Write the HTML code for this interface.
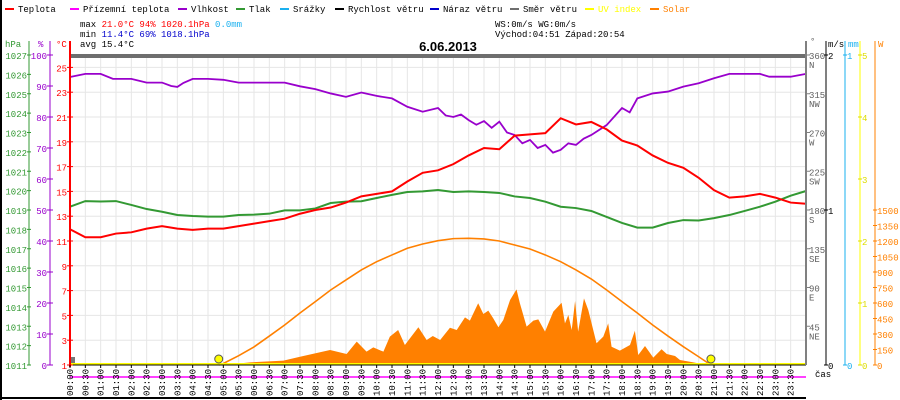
<!DOCTYPE html>
<html><head><meta charset="utf-8"><style>
body{margin:0;background:#fff}
svg{display:block;font-family:"Liberation Mono","DejaVu Sans Mono",monospace}
text{font-size:9px}
</style></head><body>
<svg id="chart" width="900" height="400" viewBox="0 0 900 400">
<g id="grid"></g>
<g id="series"></g>
<g id="axes"></g>
<g id="legend"></g>
<g>
<text x="80" y="27" fill="#000">max <tspan fill="#f00">21.0°C  94%  1020.1hPa</tspan>  <tspan fill="#1ab0ef">0.0mm</tspan></text>
<text x="80" y="37" fill="#000">min <tspan fill="#00c">11.4°C  69%  1018.1hPa</tspan></text>
<text x="80" y="47" fill="#000">avg 15.4°C</text>
<text x="495" y="27" fill="#000">WS:0m/s   WG:0m/s</text>
<text x="495" y="37" fill="#000">Východ:04:51 Západ:20:54</text>
</g>
<text x="448" y="51" text-anchor="middle" font-weight="bold" style="font-size:13px;font-family:'Liberation Sans',sans-serif">6.06.2013</text>
</svg>
<script>
const hours = [0,0.5,1,1.5,2,2.5,3,3.5,4,4.5,5,5.5,6,6.5,7,7.5,8,8.5,9,9.5,10,10.5,11,11.5,12,12.5,13,13.5,14,14.5,15,15.5,16,16.5,17,17.5,18,18.5,19,19.5,20,20.5,21,21.5,22,22.5,23,23.5,24];
const temperature = [11.95,11.3,11.3,11.6,11.7,12.0,12.2,12.0,11.9,12.0,12.0,12.2,12.4,12.6,12.8,13.2,13.5,13.7,14.1,14.6,14.8,15.0,15.8,16.5,16.7,17.2,17.9,18.5,18.4,19.5,19.6,19.7,20.9,20.4,20.6,20.0,19.1,18.7,17.9,17.3,16.9,16.1,15.1,14.5,14.6,14.8,14.5,14.1,14.0];
const pressure = [1019.17,1019.46,1019.44,1019.46,1019.26,1019.05,1018.91,1018.74,1018.69,1018.66,1018.66,1018.74,1018.76,1018.81,1018.98,1018.98,1019.08,1019.36,1019.43,1019.45,1019.62,1019.78,1019.93,1019.96,1020.03,1019.93,1019.96,1019.93,1019.88,1019.7,1019.62,1019.43,1019.17,1019.1,1018.95,1018.64,1018.33,1018.09,1018.09,1018.33,1018.48,1018.46,1018.58,1018.74,1018.95,1019.17,1019.43,1019.74,1019.98];
const humHours = [0,0.5,1,1.4,1.5,2,2.5,3,3.3,3.5,3.7,4,4.5,5,5.5,6,6.5,7,7.5,8,8.5,9,9.5,10,10.5,11,11.5,12,12.25,12.5,12.75,13,13.25,13.5,13.75,14,14.25,14.5,14.75,15,15.25,15.5,15.75,16,16.25,16.5,16.75,17,17.5,18,18.25,18.5,19,19.5,20,20.5,21,21.5,22,22.5,22.8,23,23.5,24];
const humidity = [92.9,93.9,93.9,92.3,92.3,92.3,91.1,91.1,90.0,89.7,91.0,92.3,92.3,92.0,91.1,91.1,91.1,91.1,89.9,89.0,87.6,86.5,87.9,86.8,86.0,83.3,81.7,82.9,80.5,80.0,80.8,79.0,77.5,78.7,76.5,78.5,75.0,74.2,71.5,72.6,70.0,71.0,68.5,69.4,71.5,71.0,73.0,74.2,77.4,82.9,81.5,86.0,87.6,88.2,89.8,90.9,92.5,93.9,93.9,93.9,93.0,93.0,93.0,93.9];
const clearSkyHours = [4.85,5,5.5,6,6.5,7,7.5,8,8.5,9,9.5,10,10.5,11,11.5,12,12.5,13,13.5,14,14.5,15,15.5,16,16.5,17,17.5,18,18.5,19,19.5,20,20.5,20.9];
const clearSky = [0,15,90,175,280,387,503,613,726,823,920,1000,1065,1130,1171,1203,1223,1226,1220,1200,1161,1123,1065,1000,920,832,726,613,503,387,280,177,80,0];
const solarHours = [4.9,5.0,5.5,5.87,6.96,7.5,8.48,9.02,9.35,9.67,9.89,10.22,10.43,10.7,10.92,11.36,11.63,11.83,12.07,12.39,12.61,12.88,13.04,13.31,13.48,13.64,13.8,13.97,14.13,14.35,14.56,14.67,14.89,15.11,15.27,15.49,15.76,16.03,16.14,16.25,16.36,16.47,16.57,16.76,16.9,17.17,17.39,17.55,17.66,17.93,18.26,18.42,18.53,18.75,19.02,19.29,19.46,19.73,19.89,20.33,20.76];
const solar = [0,8,15,26,42,80,145,106,226,129,171,129,274,339,194,365,242,281,242,361,339,461,429,597,494,526,452,365,435,629,732,597,371,429,442,323,516,603,403,484,339,619,323,645,532,210,274,403,177,139,194,332,97,184,71,152,106,87,48,26,0];
const tempTicks = [1,3,5,7,9,11,13,15,17,19,21,23,25];
const humTicks = [0,10,20,30,40,50,60,70,80,90,100];
const presTicks = [1011,1012,1013,1014,1015,1016,1017,1018,1019,1020,1021,1022,1023,1024,1025,1026,1027];
const dirTicks = [45,90,135,180,225,270,315,360];
const dirNames = ['NE','E','SE','S','SW','W','NW','N'];
const wTicks = [0,150,300,450,600,750,900,1050,1200,1350,1500];

const NS='http://www.w3.org/2000/svg';
const X0=70,X1=806,Y0=55,Y1=365;
const xs=h=>X0+h*(X1-X0)/24;
const yT=t=>Y1-(t-1)*(Y1-Y0)/25;
const yH=v=>Y1-v*(Y1-Y0)/100;
const yP=p=>Y1-(p-1011)*(Y1-Y0)/16;
const yD=d=>Y1-d*(Y1-Y0)/360;
const yW=w=>Y1-w*(Y1-Y0)/3000;
function mk(tag,attrs,parent,txt){const e=document.createElementNS(NS,tag);for(const k in attrs)e.setAttribute(k,attrs[k]);if(txt!==undefined)e.textContent=txt;document.getElementById(parent).appendChild(e);return e;}

// grid
for(let i=0;i<=48;i++){const x=xs(i/2);const g=mk('line',{x1:x,x2:x,y1:Y0,y2:Y1,stroke:'#e6e6e6'},'grid');

}
tempTicks.forEach(t=>{if(t===1)return;const g=mk('line',{x1:X0,x2:X1,y1:yT(t),y2:yT(t),stroke:'#e6e6e6'},'grid');

});

// series
const solarPts=solarHours.map((h,i)=>xs(h)+','+yW(solar[i])).join(' ');
const sf=mk('polygon',{points:xs(solarHours[0])+','+Y1+' '+solarPts+' '+xs(solarHours[solarHours.length-1])+','+Y1,fill:'#ff8000'},'series');


const cs=mk('polyline',{points:clearSkyHours.map((h,i)=>xs(h)+','+yW(clearSky[i])).join(' '),fill:'none',stroke:'#ff8000','stroke-width':1.6},'series');


const pl=mk('polyline',{points:hours.map((h,i)=>xs(h)+','+yP(pressure[i])).join(' '),fill:'none',stroke:'#339933','stroke-width':2},'series');


const hl=mk('polyline',{points:humHours.map((h,i)=>xs(h)+','+yH(humidity[i])).join(' '),fill:'none',stroke:'#9900cc','stroke-width':1.8},'series');


const tl=mk('polyline',{points:hours.map((h,i)=>xs(h)+','+yT(temperature[i])).join(' '),fill:'none',stroke:'#f00','stroke-width':2},'series');


const wd=mk('rect',{x:X0,y:Y0-1,width:X1-X0,height:4,fill:'#6e6e6e'},'series');


const gb=mk('rect',{x:X0+1,y:357,width:4,height:7,fill:'#777'},'series');


const uv=mk('line',{x1:X0,x2:X1,y1:Y1-1,y2:Y1-1,stroke:'#ffff00','stroke-width':2},'series');


[4.85,20.9].forEach(h=>{const c=mk('circle',{cx:xs(h),cy:359,r:4,fill:'#ffff00',stroke:'#555','stroke-width':1},'series');

});

// axes
function ln(x1,y1,x2,y2,c,name,w){const l=mk('line',{x1,y1,x2,y2,stroke:c,'stroke-width':w||1},'axes');

return l;}
ln(X0,Y1,X1,Y1,'#000','x-axis');
ln(X0,41,X0,Y1+2,'#f00','temp-axis',2);
ln(50,41,50,Y1,'#9900cc','humidity-axis');
ln(29,41,29,Y1,'#339933','pressure-axis');
ln(1,0,1,400,'#000','left-border',2);
ln(0,398,X1,398,'#000','bottom-border',2);
ln(X1,41,X1,Y1,'#808080','direction-axis',2);
ln(826,41,826,Y1,'#000','wind-speed-axis');
ln(845,41,845,Y1,'#1ab0ef','rain-axis');
ln(860,41,860,Y1,'#ffff00','uv-axis');
ln(875,41,875,Y1,'#ff8000','solar-axis');
ln(X0,377,X1,377,'#ff00ff','dew-point-line',1.5);
function lbl(x,y,t,c,anchor,name){const e=mk('text',{x,y,fill:c,'text-anchor':anchor||'start'},'axes',t);

return e;}
tempTicks.forEach(t=>{const y=yT(t);ln(X0-3,y,X0+3,y,'#f00','temp-tick');lbl(67,y+4,String(t),'#f00','end','temp-tick-label');});
humTicks.forEach(v=>{const y=yH(v);ln(47,y,53,y,'#9900cc','humidity-tick');lbl(47,y+4,String(v),'#9900cc','end','humidity-tick-label');});
presTicks.forEach(v=>{const y=yP(v);ln(27,y,31,y,'#339933','pressure-tick');lbl(27,y+4,String(v),'#339933','end','pressure-tick-label');});
dirTicks.forEach((v,i)=>{const y=yD(v);ln(X1,y,X1+4,y,'#808080','direction-tick');lbl(X1+3,y+4,String(v),'#606060','start','direction-tick-label');lbl(X1+3,y+13,dirNames[i],'#606060','start','compass-label');});
[0,1,2].forEach(v=>{const y=Y1-v*(Y1-Y0)/2;ln(824,y,828,y,'#000','wind-tick');lbl(828,y+4,String(v),'#000','start','wind-tick-label');});
[0,1].forEach(v=>{const y=Y1-v*(Y1-Y0);ln(843,y,847,y,'#1ab0ef','rain-tick');lbl(847,y+4,String(v),'#1ab0ef','start','rain-tick-label');});
[0,1,2,3,4,5].forEach(v=>{const y=Y1-v*(Y1-Y0)/5;ln(858,y,862,y,'#dddd00','uv-tick');lbl(862,y+4,String(v),'#dddd00','start','uv-tick-label');});
wTicks.forEach(v=>{const y=yW(v);ln(873,y,877,y,'#ff8000','solar-tick');lbl(877,y+4,String(v),'#ff8000','start','solar-tick-label');});
lbl(5,47,'hPa','#339933','start','pressure-unit');
lbl(38,47,'%','#9900cc','start','humidity-unit');
lbl(56,47,'°C','#f00','start','temp-unit');
lbl(810,44,'°','#606060','start','direction-unit');
lbl(828,47,'m/s','#000','start','wind-unit');
lbl(848,47,'mm','#1ab0ef','start','rain-unit');
lbl(878,47,'W','#ff8000','start','solar-unit');
lbl(815,377,'čas','#000','start','time-axis-title');
for(let i=0;i<48;i++){const h=i/2;const x=xs(h);ln(x,Y1,x,Y1+3,'#000','time-tick');
const s=String(Math.floor(h)).padStart(2,'0')+':'+(i%2?'30':'00');
const t=lbl(0,0,s,'#000','start','time-tick-label');t.setAttribute('transform','translate('+(x+3)+',396) rotate(-90)');}

// legend
const legNames=['Teplota','Přízemní teplota','Vlhkost','Tlak','Srážky','Rychlost větru','Náraz větru','Směr větru','UV index','Solar'];
const legColors=['#f00','#ff00ff','#9900cc','#339933','#1ab0ef','#000','#0000cc','#6e6e6e','#ffff00','#ff8000'];
const legX=[5,70,178,236,280,335,430,510,585,650];
legNames.forEach((n,i)=>{const r=mk('rect',{x:legX[i],y:8,width:9,height:2,fill:legColors[i]},'legend');


const t=mk('text',{x:legX[i]+13,y:12,fill:i>=8?legColors[i]:'#000'},'legend',n);

});
</script>
</body></html>
